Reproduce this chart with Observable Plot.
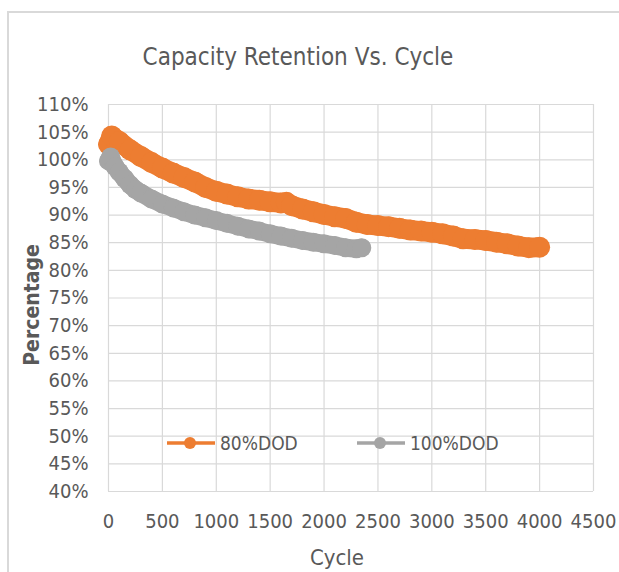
<!DOCTYPE html>
<html><head><meta charset="utf-8">
<script src="https://cdn.jsdelivr.net/npm/d3@7"></script>
<script src="https://cdn.jsdelivr.net/npm/@observablehq/plot@0.6"></script>
<style>body{margin:0;background:#fff} svg{display:block}</style>
</head><body><div id="chart"></div>
<script>
const titleText = "Capacity Retention Vs. Cycle";
const xLabel = "Cycle";
const yLabel = "Percentage";
const seriesNames = ["80%DOD", "100%DOD"];
const seriesColors = ["#ED7D31", "#A5A5A5"];
const xTicks = [0, 500, 1000, 1500, 2000, 2500, 3000, 3500, 4000, 4500];
const yTicks = [40, 45, 50, 55, 60, 65, 70, 75, 80, 85, 90, 95, 100, 105, 110];

const cycles80 = [0, 30, 100, 200, 300, 400, 500, 600, 700, 800, 900, 1000, 1100, 1200, 1300, 1400, 1500, 1600, 1650, 1700, 1800, 1900, 2000, 2100, 2200, 2300, 2400, 2500, 2600, 2700, 2800, 2900, 3000, 3100, 3200, 3290, 3400, 3500, 3600, 3700, 3800, 3900, 4000];
const retention80 = [102.8, 104.3, 103.3, 101.8, 100.6, 99.5, 98.5, 97.6, 96.8, 96.0, 95.0, 94.3, 93.8, 93.3, 92.9, 92.7, 92.4, 92.2, 92.3, 91.7, 91.1, 90.6, 90.1, 89.7, 89.4, 88.7, 88.3, 88.1, 87.9, 87.6, 87.3, 87.1, 86.9, 86.6, 86.2, 85.7, 85.6, 85.4, 85.1, 84.8, 84.4, 84.1, 84.2];

const cycles100 = [0, 20, 60, 100, 150, 200, 250, 300, 400, 500, 600, 700, 800, 900, 1000, 1100, 1200, 1300, 1400, 1500, 1600, 1700, 1800, 1900, 2000, 2100, 2200, 2300, 2350];
const retention100 = [99.8, 100.5, 98.8, 97.8, 96.6, 95.5, 94.6, 94.0, 92.9, 92.0, 91.3, 90.6, 90.0, 89.5, 89.0, 88.5, 88.0, 87.5, 87.1, 86.6, 86.2, 85.8, 85.4, 85.1, 84.8, 84.5, 84.1, 83.9, 84.1];

const FONT = "'Liberation Sans Narrow', 'DejaVu Sans Condensed', 'Liberation Sans', sans-serif";
const TEXT = "#595959";

const data80 = cycles80.map((c, i) => ({cycle: c, value: retention80[i]}));
const data100 = cycles100.map((c, i) => ({cycle: c, value: retention100[i]}));

const W = 619, H = 572;
const chart = Plot.plot({
  width: W, height: H,
  marginLeft: 108, marginRight: 26, marginTop: 104, marginBottom: 81,
  style: {fontFamily: FONT, fontSize: "20px", color: TEXT, background: "#fff", overflow: "visible"},
  x: {domain: [0, 4500], ticks: xTicks, tickFormat: d => String(d), tickSize: 0, tickPadding: 22, label: null},
  y: {domain: [40, 110], ticks: yTicks, tickFormat: d => d + "%", tickSize: 0, tickPadding: 20, label: null},
  marks: [
    Plot.gridX(xTicks, {stroke: "#d9d9d9", strokeOpacity: 1, strokeWidth: 1.2}),
    Plot.gridY(yTicks, {stroke: "#d9d9d9", strokeOpacity: 1, strokeWidth: 1.2}),
    Plot.line(data80, {x: "cycle", y: "value", stroke: seriesColors[0], strokeWidth: 20, strokeLinecap: "round", strokeLinejoin: "round"}),
    Plot.dot(data80, {x: "cycle", y: "value", r: 10.5, fill: seriesColors[0], stroke: "none"}),
    Plot.line(data100, {x: "cycle", y: "value", stroke: seriesColors[1], strokeWidth: 18, strokeLinecap: "round", strokeLinejoin: "round"}),
    Plot.dot(data100, {x: "cycle", y: "value", r: 9.5, fill: seriesColors[1], stroke: "none"})
  ]
});

const svg = d3.select(chart);
// outer chart border (left and top)
svg.insert("path", ":first-child")
  .attr("d", `M8,${H} L8,12 L${W},12`)
  .attr("fill", "none").attr("stroke", "#d9d9d9").attr("stroke-width", 2);

svg.append("text").text(titleText)
  .attr("x", 298).attr("y", 57).attr("text-anchor", "middle").attr("dominant-baseline", "central")
  .attr("font-family", FONT).attr("font-size", 24).attr("fill", TEXT);

svg.append("text").text(xLabel)
  .attr("x", 337).attr("y", 557).attr("text-anchor", "middle").attr("dominant-baseline", "central")
  .attr("font-family", FONT).attr("font-size", 22).attr("fill", TEXT);

svg.append("text").text(yLabel)
  .attr("transform", "translate(32,305) rotate(-90)").attr("text-anchor", "middle").attr("dominant-baseline", "central")
  .attr("font-family", FONT).attr("font-size", 21).attr("font-weight", "bold").attr("fill", TEXT);

// legend
const legendItems = [{x: 167, name: seriesNames[0], color: seriesColors[0]}, {x: 357, name: seriesNames[1], color: seriesColors[1]}];
const ly = 443;
legendItems.forEach(it => {
  const g = svg.append("g");
  g.append("line").attr("x1", it.x).attr("x2", it.x + 48).attr("y1", ly).attr("y2", ly)
    .attr("stroke", it.color).attr("stroke-width", 3.5);
  g.append("circle").attr("cx", it.x + 23).attr("cy", ly).attr("r", 6).attr("fill", it.color);
  g.append("text").text(it.name).attr("x", it.x + 53).attr("y", ly)
    .attr("text-anchor", "start").attr("dominant-baseline", "central")
    .attr("font-family", FONT).attr("font-size", 19).attr("fill", TEXT);
});

document.getElementById("chart").appendChild(chart);
</script>
</body></html>
